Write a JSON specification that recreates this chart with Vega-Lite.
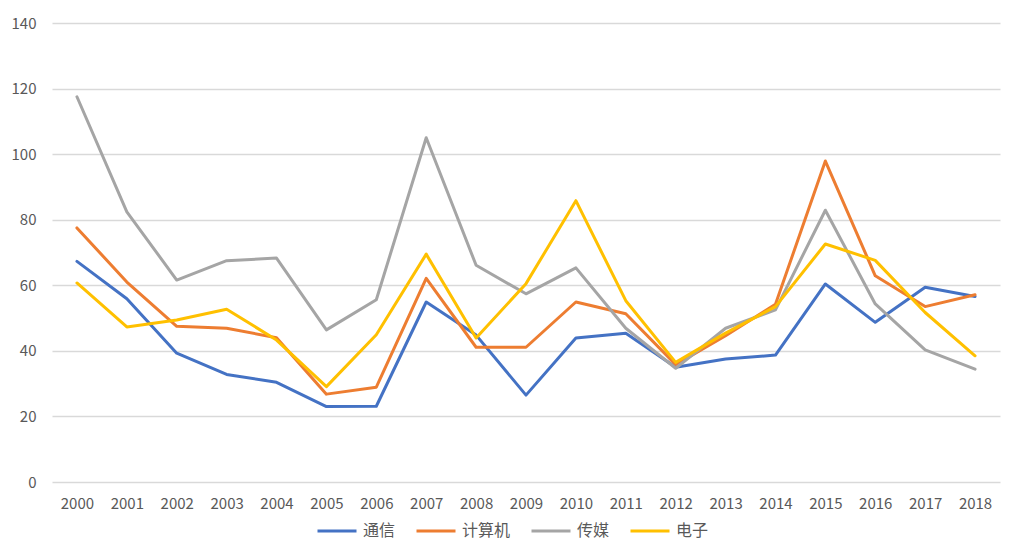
{
  "$schema": "https://vega.github.io/schema/vega-lite/v6.json",
  "width": 948,
  "height": 459,
  "autosize": {"type": "none"},
  "padding": {"left": 52, "top": 23, "right": 9, "bottom": 76},
  "background": "white",
  "config": {
    "view": {"stroke": null},
    "font": "Noto Sans CJK SC",
    "axis": {"labelColor": "#595959", "labelFontSize": 15, "labelFont": "Noto Sans CJK SC"}
  },
  "data": {
    "values": [
      {"year": "2000", "series": "通信", "value": 67.3},
      {"year": "2001", "series": "通信", "value": 55.9},
      {"year": "2002", "series": "通信", "value": 39.3},
      {"year": "2003", "series": "通信", "value": 32.8},
      {"year": "2004", "series": "通信", "value": 30.4},
      {"year": "2005", "series": "通信", "value": 23.0},
      {"year": "2006", "series": "通信", "value": 23.1},
      {"year": "2007", "series": "通信", "value": 54.9},
      {"year": "2008", "series": "通信", "value": 44.8},
      {"year": "2009", "series": "通信", "value": 26.5},
      {"year": "2010", "series": "通信", "value": 43.9},
      {"year": "2011", "series": "通信", "value": 45.4},
      {"year": "2012", "series": "通信", "value": 35.0},
      {"year": "2013", "series": "通信", "value": 37.5},
      {"year": "2014", "series": "通信", "value": 38.7},
      {"year": "2015", "series": "通信", "value": 60.4},
      {"year": "2016", "series": "通信", "value": 48.7},
      {"year": "2017", "series": "通信", "value": 59.4},
      {"year": "2018", "series": "通信", "value": 56.6},
      {"year": "2000", "series": "计算机", "value": 77.5},
      {"year": "2001", "series": "计算机", "value": 61.0},
      {"year": "2002", "series": "计算机", "value": 47.5},
      {"year": "2003", "series": "计算机", "value": 46.9},
      {"year": "2004", "series": "计算机", "value": 44.0},
      {"year": "2005", "series": "计算机", "value": 26.8},
      {"year": "2006", "series": "计算机", "value": 28.9},
      {"year": "2007", "series": "计算机", "value": 62.1},
      {"year": "2008", "series": "计算机", "value": 41.1},
      {"year": "2009", "series": "计算机", "value": 41.1},
      {"year": "2010", "series": "计算机", "value": 54.9},
      {"year": "2011", "series": "计算机", "value": 51.3},
      {"year": "2012", "series": "计算机", "value": 35.8},
      {"year": "2013", "series": "计算机", "value": 44.6},
      {"year": "2014", "series": "计算机", "value": 54.2},
      {"year": "2015", "series": "计算机", "value": 97.9},
      {"year": "2016", "series": "计算机", "value": 62.9},
      {"year": "2017", "series": "计算机", "value": 53.5},
      {"year": "2018", "series": "计算机", "value": 57.1},
      {"year": "2000", "series": "传媒", "value": 117.5},
      {"year": "2001", "series": "传媒", "value": 82.4},
      {"year": "2002", "series": "传媒", "value": 61.6},
      {"year": "2003", "series": "传媒", "value": 67.5},
      {"year": "2004", "series": "传媒", "value": 68.3},
      {"year": "2005", "series": "传媒", "value": 46.4},
      {"year": "2006", "series": "传媒", "value": 55.6},
      {"year": "2007", "series": "传媒", "value": 105.0},
      {"year": "2008", "series": "传媒", "value": 66.1},
      {"year": "2009", "series": "传媒", "value": 57.4},
      {"year": "2010", "series": "传媒", "value": 65.3},
      {"year": "2011", "series": "传媒", "value": 46.9},
      {"year": "2012", "series": "传媒", "value": 34.7},
      {"year": "2013", "series": "传媒", "value": 46.9},
      {"year": "2014", "series": "传媒", "value": 52.5},
      {"year": "2015", "series": "传媒", "value": 82.9},
      {"year": "2016", "series": "传媒", "value": 54.3},
      {"year": "2017", "series": "传媒", "value": 40.3},
      {"year": "2018", "series": "传媒", "value": 34.4},
      {"year": "2000", "series": "电子", "value": 60.7},
      {"year": "2001", "series": "电子", "value": 47.3},
      {"year": "2002", "series": "电子", "value": 49.4},
      {"year": "2003", "series": "电子", "value": 52.7},
      {"year": "2004", "series": "电子", "value": 43.3},
      {"year": "2005", "series": "电子", "value": 29.1},
      {"year": "2006", "series": "电子", "value": 44.9},
      {"year": "2007", "series": "电子", "value": 69.5},
      {"year": "2008", "series": "电子", "value": 43.9},
      {"year": "2009", "series": "电子", "value": 60.5},
      {"year": "2010", "series": "电子", "value": 85.8},
      {"year": "2011", "series": "电子", "value": 55.3},
      {"year": "2012", "series": "电子", "value": 36.5},
      {"year": "2013", "series": "电子", "value": 45.4},
      {"year": "2014", "series": "电子", "value": 53.5},
      {"year": "2015", "series": "电子", "value": 72.6},
      {"year": "2016", "series": "电子", "value": 67.6},
      {"year": "2017", "series": "电子", "value": 51.7},
      {"year": "2018", "series": "电子", "value": 38.5}
    ]
  },
  "mark": {"type": "line", "strokeWidth": 3, "strokeJoin": "round", "strokeCap": "round"},
  "encoding": {
    "x": {
      "field": "year", "type": "ordinal", "title": null,
      "scale": {"type": "point", "padding": 0.5},
      "axis": {"labelAngle": 0, "domain": false, "ticks": false, "labelPadding": 14, "grid": false}
    },
    "y": {
      "field": "value", "type": "quantitative", "title": null,
      "scale": {"domain": [0, 140], "nice": false},
      "axis": {"values": [0, 20, 40, 60, 80, 100, 120, 140], "domain": false, "ticks": false, "labelPadding": 16, "gridColor": "#d9d9d9", "gridWidth": 1.5}
    },
    "color": {
      "field": "series", "type": "nominal", "title": null,
      "scale": {"domain": ["通信", "计算机", "传媒", "电子"], "range": ["#4472C4", "#ED7D31", "#A5A5A5", "#FFC000"]},
      "legend": {
        "orient": "none", "legendX": 264, "legendY": 487, "direction": "horizontal",
        "symbolType": "stroke", "symbolSize": 1521, "symbolStrokeWidth": 3,
        "labelFontSize": 16, "labelColor": "#595959", "labelOffset": 5, "columnPadding": 14
      }
    }
  }
}
